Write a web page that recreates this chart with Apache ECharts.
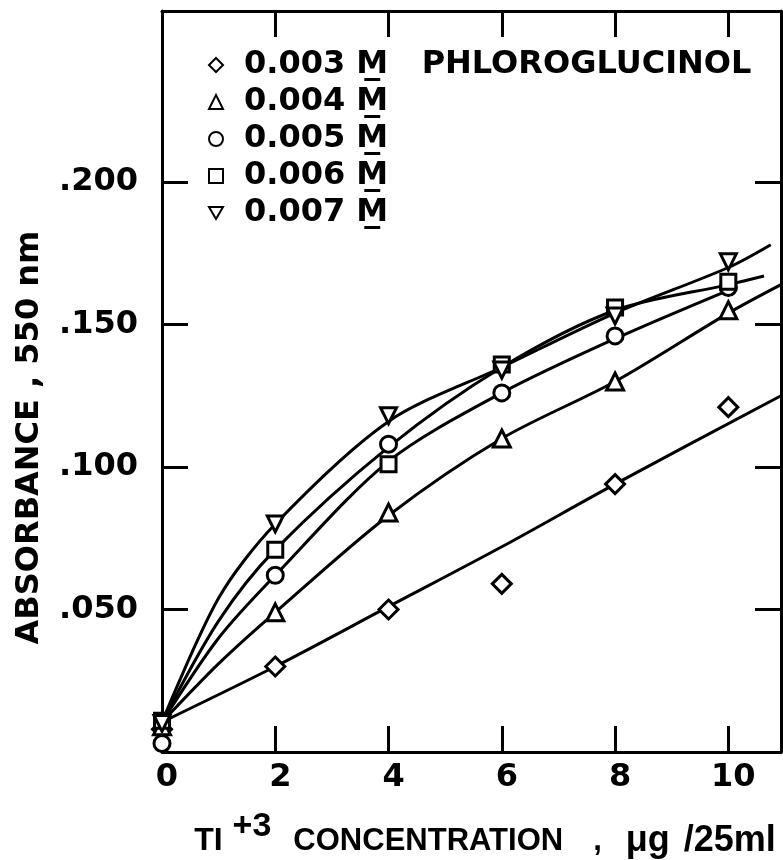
<!DOCTYPE html>
<html>
<head>
<meta charset="utf-8">
<script src="https://cdn.jsdelivr.net/npm/echarts@6/dist/echarts.min.js"></script>
<style>
html,body{margin:0;padding:0;background:#fff;}
#chart{width:783px;height:860px;}
</style>
</head>
<body>
<div id="chart"></div>
<script>
// ---- data ----
const seriesNames = ['0.003 M', '0.004 M', '0.005 M', '0.006 M', '0.007 M'];
const legendExtra = 'PHLOROGLUCINOL';
const xTickValues = [0, 2, 4, 6, 8, 10];
const yTickValues = [0.05, 0.10, 0.15, 0.20];

// measured points [Tl+3 µg/25ml, absorbance]
const pts003 = [[0, 0.008], [2, 0.030], [4, 0.050], [6, 0.059], [8, 0.094], [10, 0.121]];
const pts004 = [[0, 0.009], [2, 0.049], [4, 0.084], [6, 0.110], [8, 0.130], [10, 0.155]];
const pts005 = [[0, 0.003], [2, 0.062], [4, 0.108], [6, 0.126], [8, 0.146], [10, 0.163]];
const pts006 = [[0, 0.011], [2, 0.071], [4, 0.101], [6, 0.136], [8, 0.156], [10, 0.165]];
const pts007 = [[0, 0.010], [2, 0.080], [4, 0.118], [6, 0.134], [8, 0.153], [10, 0.172]];

// hand-drawn curves
const curve003 = [[0, 0.0105], [2, 0.030], [4, 0.051], [6, 0.072], [8, 0.094], [10.93, 0.125]];
const curve004 = [[0, 0.0105], [1, 0.031], [2, 0.049], [4, 0.083], [6, 0.110], [8, 0.130], [10, 0.154], [10.93, 0.164]];
const curve005 = [[0, 0.0105], [1, 0.040], [2, 0.062], [4, 0.102], [6, 0.126], [8, 0.145], [10, 0.162]];
const curve006 = [[0, 0.0105], [1, 0.046], [2, 0.071], [4, 0.107], [6, 0.135], [8, 0.155], [10, 0.164], [10.63, 0.167]];
const curve007 = [[0, 0.0105], [1, 0.054], [2, 0.080], [4, 0.116], [6, 0.135], [8, 0.154], [10, 0.170], [10.75, 0.178]];

const pointSets = [pts003, pts004, pts005, pts006, pts007];
const curveSets = [curve003, curve004, curve005, curve006, curve007];
const symbols = ['diamond', 'triangle', 'circle', 'rect', 'path://M0,0 L20,0 L10,17 Z'];
const symbolSizes = [19, 17, 16, 15, 16];

// ---- chart ----
const FONT = 'DejaVu Sans';
const TFONT = 'Liberation Sans';
const chart = echarts.init(document.getElementById('chart'), null, {renderer: 'canvas'});
const axisLineStyle = {color: '#000', width: 3};

const series = [];
curveSets.forEach((c, i) => {
  series.push({
    name: 'curve ' + seriesNames[i],
    type: 'line',
    data: c,
    smooth: 0.3,
    showSymbol: false,
    symbol: 'none',
    lineStyle: {color: '#000', width: 3},
    z: 2,
    silent: true
  });
});
pointSets.forEach((p, i) => {
  series.push({
    name: seriesNames[i],
    type: 'scatter',
    data: p,
    symbol: symbols[i],
    symbolSize: symbolSizes[i],
    itemStyle: {color: '#fff', borderColor: '#000', borderWidth: 3, opacity: 1},
    z: 5
  });
});

const option = {
  animation: false,
  backgroundColor: '#fff',
  grid: {left: 162, right: 2, top: 11, bottom: 108, containLabel: false, outerBoundsMode: 'none'},
  legend: {
    data: seriesNames,
    orient: 'vertical',
    left: 203,
    top: 44,
    itemWidth: 14,
    itemHeight: 14,
    itemGap: 5,
    selectedMode: false,
    textStyle: {fontFamily: FONT, fontWeight: 'bold', fontSize: 32, lineHeight: 32, color: '#000', padding: [0, 0, 0, 16]},
    formatter: function (name) {
      const t = name.replace('M', 'M\u0332');
      return name === seriesNames[0] ? t + '   ' + legendExtra : t;
    }
  },
  xAxis: [{
    type: 'value',
    position: 'bottom',
    min: 0,
    max: 10.93,
    interval: 2,
    splitLine: {show: false},
    axisLine: {show: true, onZero: false, lineStyle: axisLineStyle},
    axisTick: {show: true, inside: true, length: 26, lineStyle: axisLineStyle, customValues: [2, 4, 6, 8, 10]},
    axisLabel: {
      customValues: xTickValues,
      margin: 10,
      padding: [0, 0, 0, 10],
      fontFamily: FONT, fontWeight: 'bold', fontSize: 32, color: '#000'
    },
    name: '{a|TI}{sup|+3}{b|CONCENTRATION}{c|,}{d|\u03bcg}{e|/25ml}',
    nameLocation: 'middle',
    nameGap: 58,
    nameTextStyle: {
      color: '#000',
      rich: {
        a: {fontFamily: TFONT, fontWeight: 'bold', fontSize: 32, lineHeight: 62, verticalAlign: 'middle', padding: [0, 0, 0, 27]},
        sup: {fontFamily: TFONT, fontWeight: 'bold', fontSize: 34, lineHeight: 20, verticalAlign: 'top', padding: [0, 0, 0, 10]},
        b: {fontFamily: TFONT, fontWeight: 'bold', fontSize: 31, lineHeight: 62, verticalAlign: 'middle', padding: [0, 0, 0, 22]},
        c: {fontFamily: TFONT, fontWeight: 'bold', fontSize: 31, lineHeight: 62, verticalAlign: 'middle', padding: [0, 0, 0, 30]},
        d: {fontFamily: TFONT, fontWeight: 'bold', fontSize: 36, lineHeight: 62, verticalAlign: 'middle', padding: [0, 0, 0, 24]},
        e: {fontFamily: TFONT, fontWeight: 'bold', fontSize: 36, lineHeight: 62, verticalAlign: 'middle', padding: [0, 0, 0, 14]}
      }
    }
  }, {
    type: 'value',
    position: 'top',
    min: 0,
    max: 10.93,
    interval: 2,
    splitLine: {show: false},
    axisLine: {show: true, onZero: false, lineStyle: axisLineStyle},
    axisTick: {show: true, inside: true, length: 26, lineStyle: axisLineStyle, customValues: [2, 4, 6, 8, 10]},
    axisLabel: {show: false}
  }],
  yAxis: [{
    type: 'value',
    position: 'left',
    min: 0,
    max: 0.26,
    interval: 0.05,
    splitLine: {show: false},
    axisLine: {show: true, onZero: false, lineStyle: axisLineStyle},
    axisTick: {show: true, inside: true, length: 26, lineStyle: axisLineStyle, customValues: yTickValues},
    axisLabel: {
      customValues: yTickValues,
      margin: 24,
      fontFamily: FONT, fontWeight: 'bold', fontSize: 32, color: '#000',
      formatter: v => v.toFixed(3).replace(/^0/, '')
    },
    name: 'ABSORBANCE , 550 nm',
    nameLocation: 'middle',
    nameGap: 114,
    nameTextStyle: {
      fontFamily: FONT, fontWeight: 'bold', fontSize: 32, lineHeight: 36, color: '#000',
      padding: [0, 112, 0, 0]
    }
  }, {
    type: 'value',
    position: 'right',
    min: 0,
    max: 0.26,
    interval: 0.05,
    splitLine: {show: false},
    axisLine: {show: true, onZero: false, lineStyle: axisLineStyle},
    axisTick: {show: true, inside: true, length: 26, lineStyle: axisLineStyle, customValues: yTickValues},
    axisLabel: {show: false}
  }],
  series: series
};
chart.setOption(option);
</script>
</body>
</html>
